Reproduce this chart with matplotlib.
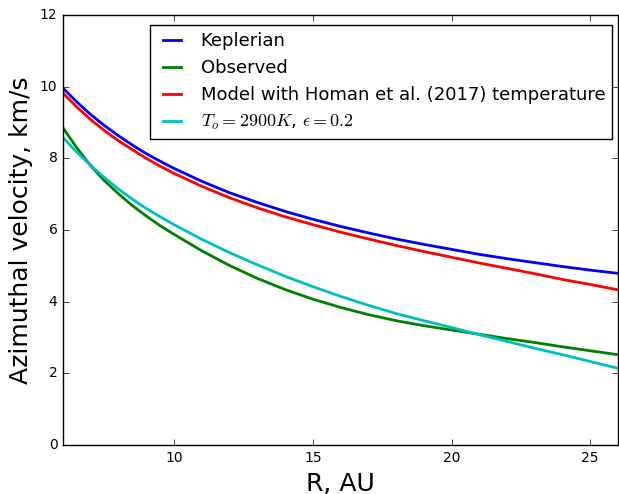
import matplotlib
matplotlib.use('Agg')
import matplotlib.pyplot as plt
import numpy as np

# radius, AU
r = [6, 6.5, 7, 7.5, 8, 8.5, 9, 9.5, 10, 11, 12, 13, 14, 15, 16, 17, 18, 19, 20,
     21, 22, 23, 24, 25, 26]

v_kepler = [9.96, 9.57, 9.22, 8.91, 8.63, 8.37, 8.13, 7.92, 7.72, 7.36, 7.04, 6.77, 6.52,
            6.30, 6.10, 5.92, 5.75, 5.60, 5.46, 5.32, 5.20, 5.09, 4.98, 4.88, 4.79]
v_observed = [8.85, 8.29, 7.79, 7.37, 7.01, 6.68, 6.39, 6.12, 5.88, 5.42, 5.01, 4.65, 4.34,
              4.07, 3.84, 3.64, 3.47, 3.33, 3.21, 3.09, 2.97, 2.86, 2.74, 2.63, 2.52]
v_homan = [9.82, 9.43, 9.08, 8.77, 8.49, 8.24, 8.00, 7.78, 7.58, 7.22, 6.90, 6.62, 6.37,
           6.15, 5.94, 5.75, 5.57, 5.40, 5.24, 5.08, 4.93, 4.78, 4.62, 4.48, 4.33]
v_model = [8.58, 8.17, 7.80, 7.46, 7.14, 6.86, 6.60, 6.37, 6.15, 5.74, 5.37, 5.03, 4.71,
           4.42, 4.15, 3.90, 3.67, 3.47, 3.28, 3.08, 2.89, 2.70, 2.52, 2.33, 2.14]

plt.style.use('classic')
plt.rcParams['figure.facecolor'] = 'white'
plt.rcParams['savefig.facecolor'] = 'white'

fig = plt.figure(figsize=(6.19, 4.94), dpi=100)
ax = fig.add_axes([63/619, 1 - 445/494, 555/619, 430/494])

ax.plot(r, v_kepler, color='b', lw=2, label='Keplerian')
ax.plot(r, v_observed, color='g', lw=2, label='Observed')
ax.plot(r, v_homan, color='r', lw=2, label='Model with Homan et al. (2017) temperature')
ax.plot(r, v_model, color='c', lw=2, label=r'$T_o=2900K$, $\epsilon=0.2$')

ax.set_xlim(6, 26)
ax.set_ylim(0, 12)
ax.set_xticks([10, 15, 20, 25])
ax.set_yticks(np.arange(0, 13, 2))
ax.tick_params(labelsize=10)
ax.set_xlabel('R, AU', fontsize=18)
ax.set_ylabel('Azimuthal velocity, km/s', fontsize=18)

ax.legend(loc='upper right', fontsize=13, bbox_to_anchor=(0.99, 0.977),
          borderaxespad=0.0, handlelength=1.6)

fig.savefig('out.png', dpi=100)
